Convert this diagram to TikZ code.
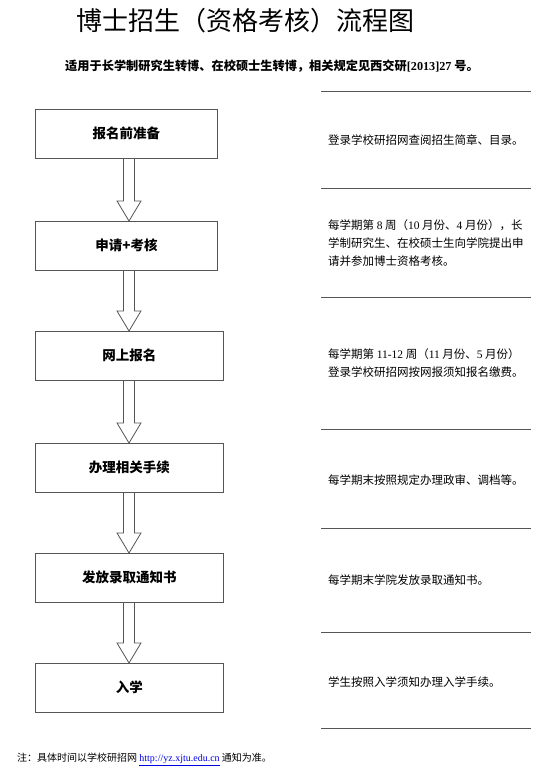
\documentclass[tikz,border=0pt]{standalone}
\usepackage{fontspec}
\setmainfont{Noto Sans CJK SC}
\newfontfamily\latinfont{Liberation Serif}
\newcommand\lat[1]{{\latinfont #1}}
\usepackage{xcolor}
\definecolor{rulegray}{RGB}{85, 85, 85}
\definecolor{linkblue}{RGB}{0, 0, 230}
\usepackage{tikz}
\usetikzlibrary{calc, positioning}

\tikzset{
  stepbox/.style={draw=rulegray, line width=0.8pt, minimum height=48.5pt, inner sep=0pt,
    anchor=north west, font=\fontsize{13.5}{16}\selectfont\bfseries},
  blockarr/.style={draw=rulegray, line width=0.8pt, line join=miter},
  note/.style={anchor=west, inner sep=0pt, align=left, font=\fontsize{11.5}{18}\selectfont},
  sepline/.style={rulegray, line width=1pt},
}

% hollow block arrow from one step box down to the next
\newcommand\blockarrow[2]{%
  \draw[blockarr] let \p1=(#1.south -| ax), \p2=(#2.north -| ax) in
    (\x1-5.5,\y1) -- (\x1-5.5,\y2+20) -- (\x1-12,\y2+20) -- (\x2,\y2)
    -- (\x1+12,\y2+20) -- (\x1+5.5,\y2+20) -- (\x1+5.5,\y1);}

\begin{document}
\begin{tikzpicture}[x=1pt, y=-1pt]
  \useasboundingbox (0,0) rectangle (554,779);
  % Title
  \node[font=\fontsize{26}{30}\selectfont] (title) at (245,21) {博士招生（资格考核）流程图};
  \node[font=\fontsize{12.2}{14}\selectfont\bfseries] (sub) at (272,66)
    {适用于长学制研究生转博、在校硕士生转博，相关规定见西交研\lat{[2013]27} 号。};
  % Steps
  \coordinate (ax) at (129,0);
  \node[stepbox, minimum width=182pt] (prep) at (35,109) {报名前准备};
  \node[stepbox, minimum width=182pt] (apply) at (35,221) {申请+考核};
  \node[stepbox, minimum width=188pt] (online) at (35,331) {网上报名};
  \node[stepbox, minimum width=188pt] (proc) at (35,443) {办理相关手续};
  \node[stepbox, minimum width=188pt] (admit) at (35,553) {发放录取通知书};
  \node[stepbox, minimum width=188pt] (enrol) at (35,663) {入学};
  % Arrows
  \blockarrow{prep}{apply}
  \blockarrow{apply}{online}
  \blockarrow{online}{proc}
  \blockarrow{proc}{admit}
  \blockarrow{admit}{enrol}
  % Right column rules
  \foreach \y in {91,188,297,429,528,632,728}
    \draw[sepline] (321,\y) -- (531,\y);
  % Right column notes
  \node[note] (n1) at (328,140) {登录学校研招网查阅招生简章、目录。};
  \node[note] (n2) at (328,243) {每学期第 \lat{8} 周（\lat{10} 月份、\lat{4} 月份），长\\
    学制研究生、在校硕士生向学院提出申\\请并参加博士资格考核。};
  \node[note] (n3) at (328,363.5) {每学期第 \lat{11-12} 周（\lat{11} 月份、\lat{5} 月份）\\
    登录学校研招网按网报须知报名缴费。};
  \node[note] (n4) at (328,480) {每学期末按照规定办理政审、调档等。};
  \node[note] (n5) at (328,580) {每学期末学院发放录取通知书。};
  \node[note] (n6) at (328,682) {学生按照入学须知办理入学手续。};
  % Footnote
  \node[anchor=west, inner sep=0pt, font=\fontsize{10}{12}\selectfont] (foot) at (17,759)
    {注：具体时间以学校研招网 \textcolor{linkblue}{\underline{\lat{http://yz.xjtu.edu.cn}}} 通知为准。};
\end{tikzpicture}
\end{document}
